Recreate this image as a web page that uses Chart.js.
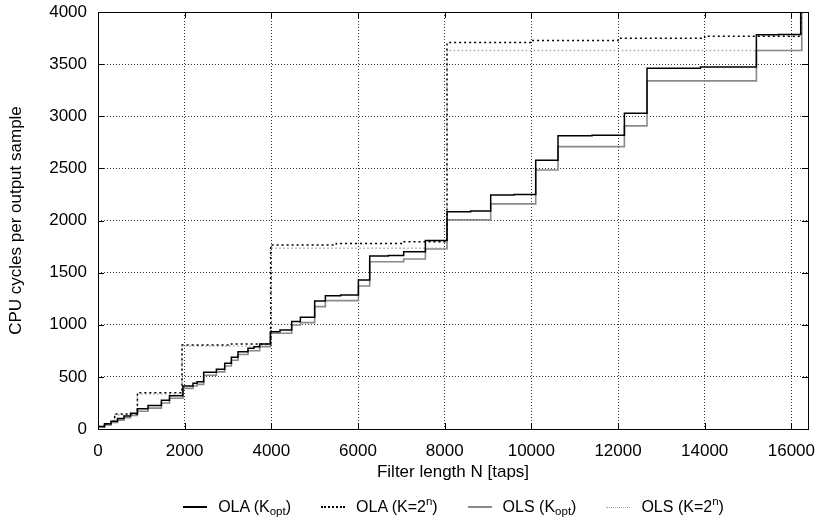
<!DOCTYPE html>
<html>
<head>
<meta charset="utf-8">
<script src="https://cdn.jsdelivr.net/npm/chart.js@4/dist/chart.umd.min.js"></script>
<style>
  html, body { margin: 0; padding: 0; background: #fff; }
  #wrap { position: relative; width: 825px; height: 531px; font-family: "Liberation Sans", Arial, sans-serif; }
  #legend { position: absolute; left: 0; top: 497px; width: 825px; display: flex; justify-content: center; padding-left: 82px; box-sizing: border-box; font-size: 16px; line-height: 20px; color: #000; }
  #legend .item { display: flex; align-items: center; margin: 0 15px; white-space: nowrap; }
  #legend .sample { display: inline-block; width: 24px; height: 0; margin-right: 11px; }
  #legend sub { font-size: 0.72em; position: relative; top: 0.35em; vertical-align: baseline; line-height: 0; }
  #legend sup { font-size: 0.72em; position: relative; top: -0.5em; vertical-align: baseline; line-height: 0; }
</style>
</head>
<body>
<div id="wrap">
  <canvas id="chart" width="825" height="531"></canvas>
  <div id="legend"></div>
</div>
<script>
'use strict'

// filter length N at which a curve steps, and the cycle count right after the step
const olaOptN = [0, 150, 300, 450, 600, 750, 909, 1154, 1463, 1650, 1960, 2192, 2285, 2439, 2732, 2924, 3078, 3231, 3461, 3600, 3731, 3978, 4200, 4470, 4670, 5000, 5247, 5600, 6009, 6270, 6700, 7054, 7555, 8054, 8600, 9062, 9600, 10101, 10615, 11400, 12147, 12669, 13900, 15193, 15700, 16216, 16384];
const olaOptV = [25, 50, 75, 100, 125, 150, 195, 225, 275, 320, 413, 438, 454, 545, 573, 630, 688, 742, 774, 790, 816, 934, 950, 1030, 1072, 1228, 1279, 1285, 1430, 1660, 1665, 1701, 1807, 2085, 2090, 2245, 2250, 2578, 2812, 2818, 3029, 3461, 3472, 3781, 3785, 4400, 4400];

const ola2nN = [0, 150, 300, 385, 909, 1939, 3000, 3985, 5500, 7000, 8054, 10000, 12000, 14000, 16216, 16384];
const ola2nV = [25, 50, 75, 144, 348, 806, 815, 1765, 1780, 1795, 3707, 3727, 3748, 3768, 4400, 4400];

const olsOptN = [0, 150, 300, 450, 600, 750, 909, 1154, 1463, 1650, 1960, 2192, 2285, 2439, 2732, 2924, 3078, 3231, 3461, 3731, 3978, 4470, 4670, 5000, 5247, 6009, 6270, 7054, 7555, 8054, 9062, 10101, 10615, 12147, 12669, 15193, 16239, 16384];
const olsOptV = [20, 40, 62, 85, 108, 130, 170, 200, 250, 295, 390, 412, 428, 515, 548, 605, 660, 715, 750, 790, 918, 998, 1020, 1174, 1231, 1372, 1605, 1631, 1727, 2006, 2159, 2485, 2709, 2908, 3339, 3630, 4400, 4400];

const ols2nN = [0, 150, 300, 385, 909, 1939, 3985, 8054, 16239, 16384];
const ols2nV = [20, 40, 62, 135, 335, 795, 1734, 3630, 4400, 4400];

const seriesLabels = ['OLA (K<sub>opt</sub>)', 'OLA (K=2<sup>n</sup>)', 'OLS (K<sub>opt</sub>)', 'OLS (K=2<sup>n</sup>)'];

const xTicks = [0, 2000, 4000, 6000, 8000, 10000, 12000, 14000, 16000];

function pts(ns, vs) {
    return ns.map((n, i) => ({ x: n, y: vs[i] }));
}

// gnuplot style frame with inward tick marks on all four sides
const framePlugin = {
    id: 'frame',
    afterDatasetsDraw(chart) {
        const { ctx, chartArea: a, scales } = chart;
        ctx.save();
        ctx.strokeStyle = '#000';
        ctx.lineWidth = 1;
        ctx.beginPath();
        scales.x.ticks.forEach(t => {
            const px = Math.round(scales.x.getPixelForValue(t.value)) + 0.5;
            ctx.moveTo(px, a.bottom); ctx.lineTo(px, a.bottom - 6);
            ctx.moveTo(px, a.top); ctx.lineTo(px, a.top + 6);
        });
        scales.y.ticks.forEach(t => {
            const py = Math.round(scales.y.getPixelForValue(t.value)) + 0.5;
            ctx.moveTo(a.left, py); ctx.lineTo(a.left + 6, py);
            ctx.moveTo(a.right, py); ctx.lineTo(a.right - 6, py);
        });
        ctx.stroke();
        ctx.strokeRect(Math.round(a.left) + 0.5, Math.round(a.top) + 0.5, Math.round(a.right - a.left), Math.round(a.bottom - a.top));
        ctx.restore();
    }
};

const ctx = document.getElementById('chart').getContext('2d');
const myChart = new Chart(ctx, {
    type: 'line',
    data: {
        datasets: [{
            label: 'OLA (Kopt)',
            data: pts(olaOptN, olaOptV),
            borderColor: '#000',
            borderWidth: 1.5
        }, {
            label: 'OLA (K=2^n)',
            data: pts(ola2nN, ola2nV),
            borderColor: '#000',
            borderWidth: 1.5,
            borderDash: [2, 3]
        }, {
            label: 'OLS (Kopt)',
            data: pts(olsOptN, olsOptV),
            borderColor: '#8a8a8a',
            borderWidth: 1.6
        }, {
            label: 'OLS (K=2^n)',
            data: pts(ols2nN, ols2nV),
            borderColor: '#a8a8a8',
            borderWidth: 1.4,
            borderDash: [1.5, 2.5]
        }]
    },
    options: {
        responsive: false,
        animation: false,
        datasets: {
            line: { stepped: true, pointRadius: 0, fill: false, tension: 0 }
        },
        layout: { padding: { top: 12, right: 17, bottom: 40, left: 0 } },
        plugins: {
            legend: { display: false },
            tooltip: { enabled: false }
        },
        scales: {
            x: {
                type: 'linear',
                min: 0,
                max: 16384,
                afterBuildTicks: s => { s.ticks = xTicks.map(v => ({ value: v })); },
                afterFit: s => { s.height = 62; s.paddingLeft = 0; s.paddingRight = 0; },
                grid: { color: 'rgba(0,0,0,0.8)', drawTicks: false },
                border: { display: false, dash: [1, 2] },
                ticks: {
                    padding: 12,
                    color: '#000',
                    font: { family: 'Liberation Sans', size: 17 },
                    callback: v => String(v)
                },
                title: {
                    display: true,
                    text: 'Filter length N [taps]',
                    color: '#000',
                    font: { family: 'Liberation Sans', size: 17 },
                    padding: { top: 0, bottom: 8 }
                }
            },
            y: {
                min: 0,
                max: 4000,
                afterFit: s => { s.width = 98; s.paddingTop = 0; s.paddingBottom = 0; },
                grid: { color: 'rgba(0,0,0,0.8)', drawTicks: false },
                border: { display: false, dash: [1, 2] },
                ticks: {
                    stepSize: 500,
                    padding: 11,
                    color: '#000',
                    font: { family: 'Liberation Sans', size: 17 },
                    callback: v => String(v)
                },
                title: {
                    display: true,
                    text: 'CPU cycles per output sample',
                    color: '#000',
                    font: { family: 'Liberation Sans', size: 17 },
                    padding: { top: 6, bottom: 0 }
                }
            }
        }
    },
    plugins: [framePlugin]
});

// legend as html so that the subscripts and superscripts stay real text
const legendEl = document.getElementById('legend');
myChart.data.datasets.forEach((ds, i) => {
    const item = document.createElement('span');
    item.className = 'item';
    const dashed = ds.borderDash && ds.borderDash.length;
    const w = Math.max(1, Math.round(ds.borderWidth));
    item.innerHTML = '<span class="sample" style="border-top:' + w + 'px ' + (dashed ? 'dotted' : 'solid') + ' ' + ds.borderColor + '"></span>' + seriesLabels[i];
    legendEl.appendChild(item);
});
</script>
</body>
</html>
